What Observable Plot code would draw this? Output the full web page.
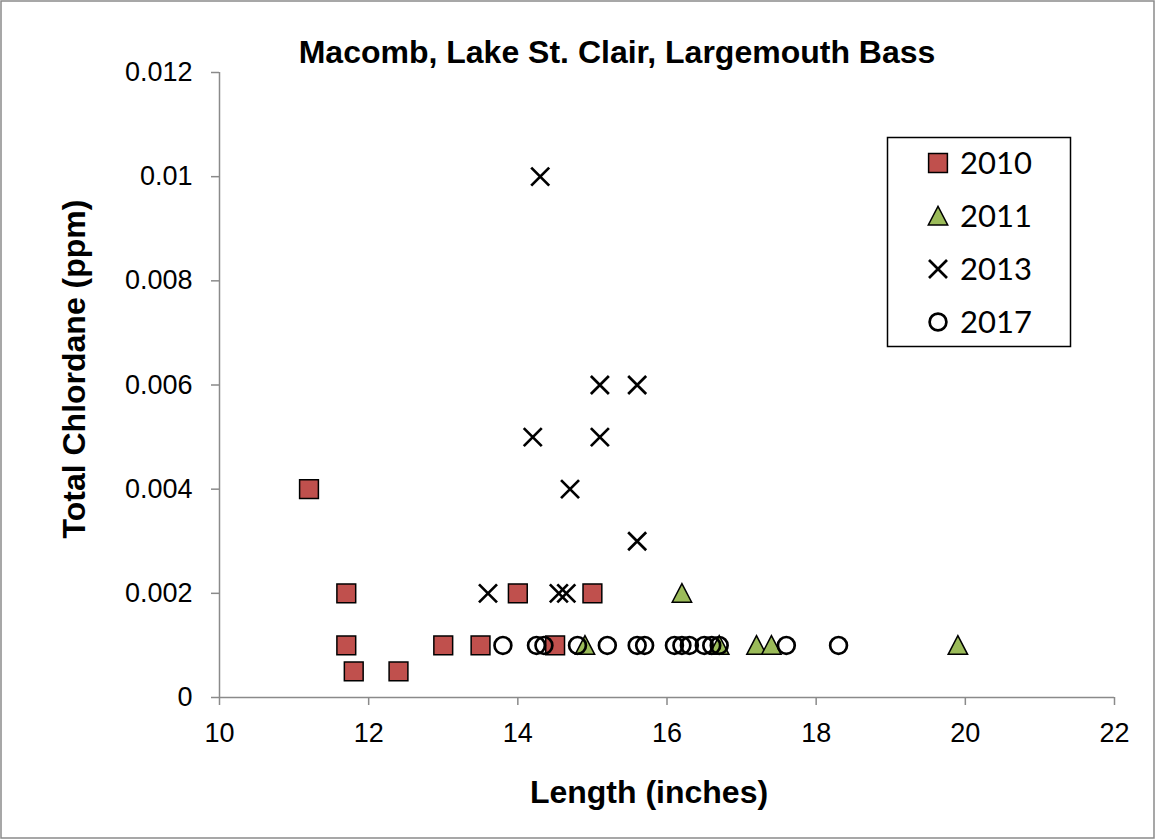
<!DOCTYPE html>
<html><head><meta charset="utf-8">
<script src="https://cdn.jsdelivr.net/npm/d3@7"></script>
<script src="https://cdn.jsdelivr.net/npm/@observablehq/plot@0.6"></script>
<style>
html,body{margin:0;padding:0;background:#fff;}
#chart{position:relative;width:1156px;height:840px;}
</style></head><body><div id="chart"></div>
<script>
const title = "Macomb, Lake St. Clair, Largemouth Bass";
const xLabel = "Length (inches)";
const yLabel = "Total Chlordane (ppm)";
const xTicks = [10, 12, 14, 16, 18, 20, 22];
const yTicks = [0, 0.002, 0.004, 0.006, 0.008, 0.01, 0.012];
const seriesNames = ["2010", "2011", "2013", "2017"];

const len2010 = [11.2, 11.7, 11.7, 11.8, 12.4, 13.0, 13.5, 14.0, 14.5, 15.0];
const val2010 = [0.004, 0.002, 0.001, 0.0005, 0.0005, 0.001, 0.001, 0.002, 0.001, 0.002];
const len2011 = [14.9, 16.2, 16.7, 17.2, 17.4, 19.9];
const val2011 = [0.001, 0.002, 0.001, 0.001, 0.001, 0.001];
const len2013 = [14.3, 14.2, 15.1, 15.6, 15.1, 14.7, 15.6, 13.6, 14.55, 14.65];
const val2013 = [0.01, 0.005, 0.006, 0.006, 0.005, 0.004, 0.003, 0.002, 0.002, 0.002];
const len2017 = [13.8, 14.25, 14.35, 14.8, 15.2, 15.6, 15.7, 16.1, 16.2, 16.3, 16.5, 16.6, 16.7, 17.6, 18.3];
const val2017 = [0.001, 0.001, 0.001, 0.001, 0.001, 0.001, 0.001, 0.001, 0.001, 0.001, 0.001, 0.001, 0.001, 0.001, 0.001];

const toRows = (xs, ys) => xs.map((x, i) => ({x, y: ys[i]}));
const d2010 = toRows(len2010, val2010);
const d2011 = toRows(len2011, val2011);
const d2013 = toRows(len2013, val2013);
const d2017 = toRows(len2017, val2017);

const rad = s => Math.sqrt(s / Math.PI);
const symSquare = {draw(c, s) { const r = rad(s); c.rect(-r, -r, 2 * r, 2 * r); }};
const symTri = {draw(c, s) { const r = rad(s); c.moveTo(0, -r); c.lineTo(r, r * 0.92); c.lineTo(-r, r * 0.92); c.closePath(); }};
const symX = {draw(c, s) { const r = rad(s); c.moveTo(-r, -r); c.lineTo(r, r); c.moveTo(r, -r); c.lineTo(-r, r); }};
const symCircle = {draw(c, s) { const r = rad(s); c.moveTo(r, 0); c.arc(0, 0, r, 0, 2 * Math.PI); }};

const styles = [
  {sym: symSquare, r: 9.4, fill: "#C0504D", stroke: "#000", sw: 1.5},
  {sym: symTri, r: 9.7, fill: "#9BBB59", stroke: "#000", sw: 1.5},
  {sym: symX, r: 9.0, fill: "none", stroke: "#000", sw: 2.7},
  {sym: symCircle, r: 8.4, fill: "none", stroke: "#000", sw: 2.7}
];
const datasets = [d2010, d2011, d2013, d2017];

const axisColor = "#8a8a8a";
const plot = Plot.plot({
  width: 1156,
  height: 840,
  marginLeft: 219,
  marginRight: 42,
  marginTop: 72,
  marginBottom: 143,
  style: {fontFamily: "'Liberation Sans', Arial, sans-serif", fontSize: "27px", background: "white", color: "black"},
  x: {domain: [10, 22]},
  y: {domain: [0, 0.012]},
  marks: [
    Plot.axisX({ticks: xTicks, tickSize: 8, tickPadding: 17, stroke: axisColor, strokeWidth: 1.5, fill: "black", fontSize: 27, label: null}),
    Plot.axisY({ticks: yTicks, tickFormat: d => String(d), tickSize: 8, tickPadding: 19, stroke: axisColor, strokeWidth: 1.5, fill: "black", fontSize: 27, label: null}),
    Plot.ruleY([0], {stroke: axisColor, strokeWidth: 1.5}),
    Plot.ruleX([10], {stroke: axisColor, strokeWidth: 1.5}),
    ...datasets.map((d, i) => Plot.dot(d, {x: "x", y: "y", symbol: styles[i].sym, r: styles[i].r,
      fill: styles[i].fill, stroke: styles[i].stroke, strokeWidth: styles[i].sw}))
  ]
});

document.getElementById("chart").appendChild(plot);
const svg = d3.select(plot);

// outer frame
svg.append("rect").attr("x", 1).attr("y", 1).attr("width", 1153).attr("height", 837)
  .attr("fill", "none").attr("stroke", axisColor).attr("stroke-width", 1.5);

// title and axis titles
const bold = "'Liberation Sans', Arial, sans-serif";
svg.append("text").text(title).attr("x", 617).attr("y", 63).attr("text-anchor", "middle")
  .attr("font-family", bold).attr("font-weight", "bold").attr("font-size", 32).attr("fill", "black");
svg.append("text").text(xLabel).attr("x", 649).attr("y", 803).attr("text-anchor", "middle")
  .attr("font-family", bold).attr("font-weight", "bold").attr("font-size", 32).attr("fill", "black");
svg.append("text").text(yLabel).attr("transform", "translate(85,369) rotate(-90)").attr("text-anchor", "middle")
  .attr("font-family", bold).attr("font-weight", "bold").attr("font-size", 32).attr("fill", "black");

// legend
const lg = svg.append("g");
lg.append("rect").attr("x", 887.5).attr("y", 137.5).attr("width", 183).attr("height", 209)
  .attr("fill", "white").attr("stroke", "black").attr("stroke-width", 1.5);
seriesNames.forEach((name, i) => {
  const cy = 163 + i * 53;
  const st = styles[i];
  lg.append("path").attr("d", d3.symbol().type(st.sym).size(Math.PI * st.r * st.r)())
    .attr("transform", `translate(938,${cy})`)
    .attr("fill", st.fill).attr("stroke", st.stroke).attr("stroke-width", st.sw);
  lg.append("text").text(name).attr("x", 960).attr("y", cy).attr("dy", "0.36em").attr("text-anchor", "start")
    .attr("font-family", "Lato, 'Open Sans', sans-serif").attr("font-size", 31).attr("fill", "black");
});
</script></body></html>
